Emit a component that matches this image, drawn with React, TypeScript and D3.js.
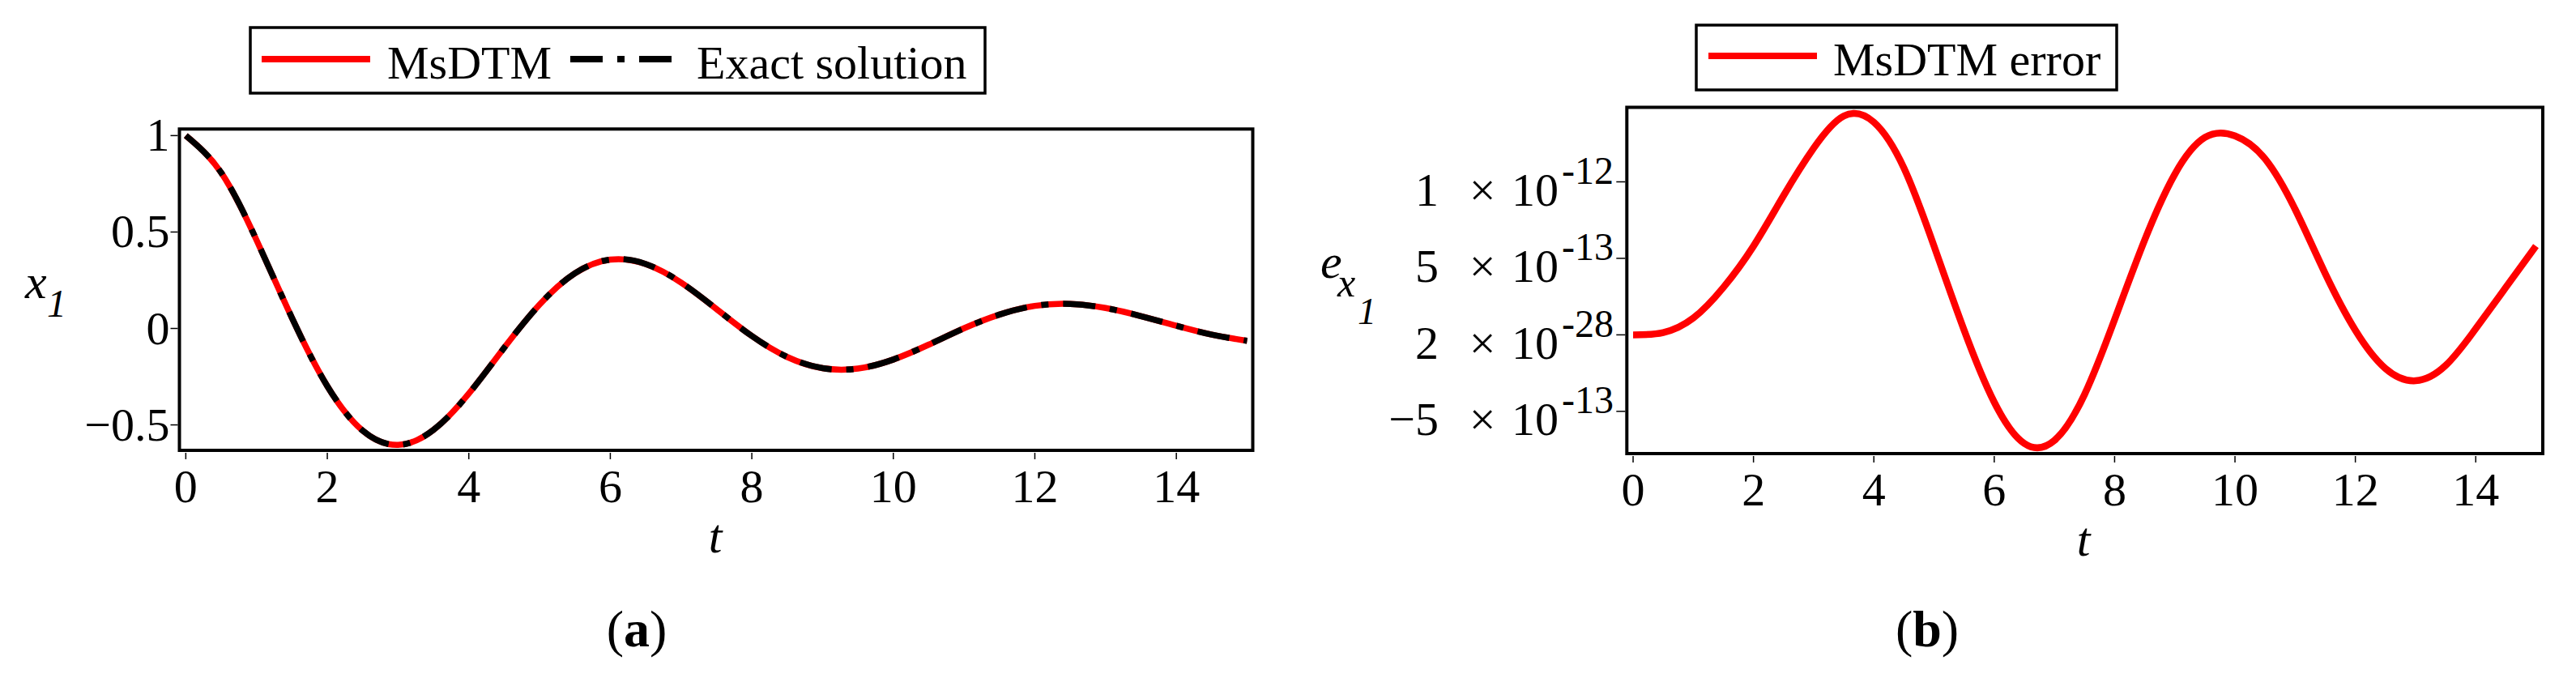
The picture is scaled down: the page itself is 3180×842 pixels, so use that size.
import * as d3 from "d3";
import { useEffect } from "react";

// ---- data ----
const tValues = [
  0, 0.5, 1, 1.5, 2, 2.5, 3, 3.5, 4, 4.5, 5, 5.5, 6, 6.5, 7, 7.5, 8, 8.5, 9,
  9.5, 10, 10.5, 11, 11.5, 12, 12.5, 13, 13.5, 14, 14.5, 15,
];
const x1Values = [
  1.0, 0.808, 0.458, 0.055, -0.299, -0.53, -0.604, -0.526, -0.338, -0.1, 0.124,
  0.286, 0.357, 0.334, 0.238, 0.101, -0.039, -0.148, -0.206, -0.208, -0.161,
  -0.084, 0.001, 0.072, 0.117, 0.127, 0.106, 0.064, 0.014, -0.032, -0.064,
];

// error curve (same t grid), values in units of 1e-13
const errValues = [
  0, 0.15, 1.1, 3.1, 5.8, 9.1, 12.2, 14.3, 13.9, 10.9, 5.8, 0.3, -4.4, -7.1,
  -6.9, -3.9, 1.0, 6.2, 10.5, 12.9, 13.0, 11.5, 8.2, 4.0, 0.3, -2.2, -3.0,
  -2.0, 0.4, 3.1, 5.8,
];

const tTicks = [0, 2, 4, 6, 8, 10, 12, 14];
const x1Ticks = [1, 0.5, 0, -0.5];
const x1TickLabels = ["1", "0.5", "0", "\u22120.5"];
const errTicks = [1e-12, 5e-13, 2e-28, -5e-13];
const errMantissa = ["1", "5", "2", "\u22125"];
const errExponent = ["-12", "-13", "-28", "-13"];

const legendA = ["MsDTM", "Exact solution"];
const legendB = ["MsDTM error"];

const W = 3180;
const H = 842;
const FONT = '"Liberation Serif", "Times New Roman", Times, serif';
const RED = "#ff0000";

const xA = d3.scaleLinear().domain([-0.09, 15.08]).range([221.5, 1546.5]);
const yA = d3.scaleLinear().domain([-0.632, 1.034]).range([556, 159.3]);
const xB = d3.scaleLinear().domain([-0.104, 15.114]).range([2008.3, 3139]);
const yB = d3.scaleLinear().domain([-0.776e-12, 1.487e-12]).range([560, 132.5]);

const lineA = d3
  .line<number>()
  .x((d, i) => xA(tValues[i]))
  .y((d) => yA(d))
  .curve(d3.curveNatural);

const lineB = d3
  .line<number>()
  .x((d, i) => xB(tValues[i]))
  .y((d) => yB(d * 1e-13))
  .curve(d3.curveNatural);

const Frame = ({ x, y }) => {
  const [x0, x1] = x.range();
  const [y0, y1] = y.range();
  return (
    <rect
      x={x0}
      y={y1}
      width={x1 - x0}
      height={y0 - y1}
      fill="none"
      stroke="#000"
      strokeWidth={4}
    />
  );
};

const XAxis = ({ x, y, labelX }) => {
  const base = y.range()[0];
  return (
    <g>
      {tTicks.map((t) => (
        <g key={t}>
          <line
            x1={x(t)}
            x2={x(t)}
            y1={base + 3}
            y2={base + 11}
            stroke="#000"
            strokeWidth={1.5}
          />
          <text x={x(t)} y={base + 64} textAnchor="middle" fontSize={58}>
            {t}
          </text>
        </g>
      ))}
      <text
        x={labelX}
        y={base + 126}
        textAnchor="middle"
        fontSize={60}
        fontStyle="italic"
      >
        t
      </text>
    </g>
  );
};

const App = () => {
  useEffect(() => {
    document.body.style.margin = "0";
  }, []);

  const leftA = xA.range()[0];
  const leftB = xB.range()[0];

  return (
    <svg
      width={W}
      height={H}
      fontFamily={FONT}
      style={{ position: "absolute", left: 0, top: 0, background: "#fff" }}
    >
      {/* panel (a) */}
      <g>
        <rect x={309} y={34} width={907} height={81} fill="none" stroke="#000" strokeWidth={3.5} />
        <line x1={323} x2={457} y1={73} y2={73} stroke={RED} strokeWidth={8} />
        <text x={478} y={96.5} fontSize={58}>
          {legendA[0]}
        </text>
        <line
          x1={704}
          x2={830}
          y1={73}
          y2={73}
          stroke="#000"
          strokeWidth={8}
          strokeDasharray="40 18 9 18"
        />
        <text x={860} y={96.5} fontSize={58}>
          {legendA[1]}
        </text>

        <path d={lineA(x1Values)} fill="none" stroke={RED} strokeWidth={7.5} />
        <path
          d={lineA(x1Values)}
          fill="none"
          stroke="#000"
          strokeWidth={7.5}
          strokeDasharray="40 18 9 18"
        />
        <Frame x={xA} y={yA} />

        {x1Ticks.map((v, i) => (
          <g key={v}>
            <line
              x1={leftA - 11}
              x2={leftA - 2}
              y1={yA(v)}
              y2={yA(v)}
              stroke="#000"
              strokeWidth={1.5}
            />
            <text x={leftA - 12} y={yA(v) + 19} textAnchor="end" fontSize={58}>
              {x1TickLabels[i]}
            </text>
          </g>
        ))}
        <XAxis x={xA} y={yA} labelX={883} />

        <text x={31} y={368} fontSize={60} fontStyle="italic">
          x
        </text>
        <text x={58} y={391} fontSize={48} fontStyle="italic">
          1
        </text>

        <text x={786} y={798} textAnchor="middle" fontSize={64}>
          (<tspan fontWeight="bold">a</tspan>)
        </text>
      </g>

      {/* panel (b) */}
      <g>
        <rect x={2094} y={31} width={519} height={80} fill="none" stroke="#000" strokeWidth={3.5} />
        <line x1={2109} x2={2243} y1={69} y2={69} stroke={RED} strokeWidth={8} />
        <text x={2263} y={93} fontSize={58}>
          {legendB[0]}
        </text>

        <path d={lineB(errValues)} fill="none" stroke={RED} strokeWidth={8.5} />
        <Frame x={xB} y={yB} />

        {errTicks.map((v, i) => (
          <g key={i}>
            <line
              x1={leftB - 13}
              x2={leftB - 2}
              y1={yB(v)}
              y2={yB(v)}
              stroke="#000"
              strokeWidth={1.5}
            />
            <text x={1776} y={yB(v) + 29.5} textAnchor="end" fontSize={58}>
              {errMantissa[i]}
            </text>
            <text x={1830} y={yB(v) + 29.5} textAnchor="middle" fontSize={58}>
              ×
            </text>
            <text x={1866} y={yB(v) + 29.5} fontSize={58}>
              10
            </text>
            <text x={1928} y={yB(v) + 2.5} fontSize={48}>
              {errExponent[i]}
            </text>
          </g>
        ))}
        <XAxis x={xB} y={yB} labelX={2572} />

        <text x={1630} y={343} fontSize={60} fontStyle="italic">
          e
        </text>
        <text x={1651} y={366} fontSize={50} fontStyle="italic">
          x
        </text>
        <text x={1676} y={400} fontSize={46} fontStyle="italic">
          1
        </text>

        <text x={2379} y={798} textAnchor="middle" fontSize={64}>
          (<tspan fontWeight="bold">b</tspan>)
        </text>
      </g>
    </svg>
  );
};

export default App;
